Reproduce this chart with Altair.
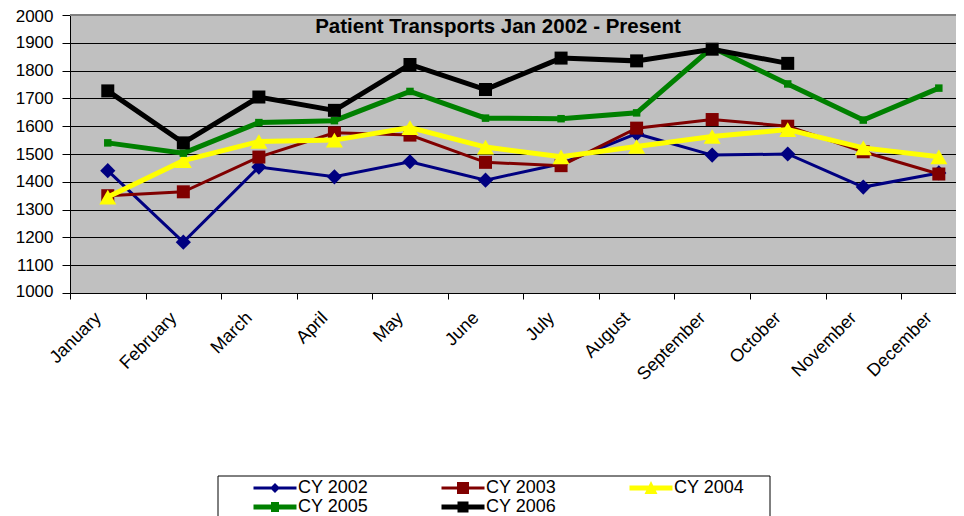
import altair as alt
import pandas as pd

# ---------------- data ----------------
months = ["January", "February", "March", "April", "May", "June", "July",
          "August", "September", "October", "November", "December"]
series_names = ["CY 2002", "CY 2003", "CY 2004", "CY 2005", "CY 2006"]
cy2002 = [1440, 1183, 1453, 1418, 1472, 1406, 1465, 1573, 1496, 1500, 1381, 1432]
cy2003 = [1350, 1364, 1489, 1576, 1568, 1470, 1458, 1593, 1624, 1600, 1508, 1428]
cy2004 = [1345, 1476, 1545, 1550, 1595, 1525, 1490, 1527, 1563, 1588, 1522, 1490]
cy2005 = [1540, 1503, 1613, 1620, 1725, 1629, 1627, 1648, 1883, 1752, 1622, 1737]
cy2006 = [1727, 1540, 1705, 1657, 1822, 1732, 1845, 1835, 1877, 1826, None, None]
y_ticks = [1000, 1100, 1200, 1300, 1400, 1500, 1600, 1700, 1800, 1900, 2000]
title_text = "Patient Transports Jan 2002 - Present"

# ---------------- styles ----------------
colors = ["#000080", "#800000", "#FFFF00", "#008000", "#000000"]
line_widths = [3, 3, 5, 5, 5]
shapes = ["diamond", "square", "triangle-up", "square", "square"]
marker_sizes = [230, 169, 289, 56, 169]

LEG_SIZE = 169              # legend symbol size (sqrt = 13 px)
UNIT = (LEG_SIZE ** 0.5) / 2  # px per path unit


def poly(points):
    return "M" + "L".join("%.3f,%.3f" % (x / UNIT, y / UNIT) for x, y in points) + "Z"


def legend_path(half_thick, marker):
    bar = poly([(-21.5, -half_thick), (21.5, -half_thick), (21.5, half_thick), (-21.5, half_thick)])
    return bar + " " + poly(marker)


legend_paths = [
    legend_path(1.5, [(0, -5), (5, 0), (0, 5), (-5, 0)]),
    legend_path(1.5, [(-6, -6), (6, -6), (6, 6), (-6, 6)]),
    legend_path(2.5, [(0, -7), (6.5, 6), (-6.5, 6)]),
    legend_path(2.5, [(-4, -5), (4, -5), (4, 5), (-4, 5)]),
    legend_path(2.5, [(-5.5, -5.5), (5.5, -5.5), (5.5, 5.5), (-5.5, 5.5)]),
]

FONT = "Liberation Sans"
W, H = 886, 278
BAND = 75.55
XMAX = W / BAND

rows = []
for name, vals in zip(series_names, [cy2002, cy2003, cy2004, cy2005, cy2006]):
    for i, (m, v) in enumerate(zip(months, vals)):
        if v is not None:
            rows.append({"series": name, "month": m, "pos": i + 0.5, "value": v})
df = pd.DataFrame(rows)

label_expr = "[" + ",".join("'%s'" % m for m in months) + "][datum.value] || ''"

x_enc = alt.X(
    "pos:Q",
    scale=alt.Scale(domain=[0, XMAX], nice=False, zero=False),
    axis=alt.Axis(
        values=list(range(0, 12)), labelExpr=label_expr, title=None, grid=False,
        labelAngle=315, labelAlign="right", labelBaseline="middle",
        labelOffset=28, labelPadding=16, tickSize=6, labelFlush=False,
        labelOverlap=False, labelBound=False, labelFont=FONT, labelFontSize=18,
        labelColor="black", tickColor="black", domainColor="black",
    ),
)
y_enc = alt.Y(
    "value:Q",
    scale=alt.Scale(domain=[1000, 2000], nice=False, zero=False),
    axis=alt.Axis(
        values=y_ticks, format="d", title=None, grid=True, gridColor="black", gridWidth=1,
        tickSize=8, labelPadding=9, labelFont=FONT, labelFontSize=17,
        labelFlush=True, labelFlushOffset=7,
        labelColor="black", tickColor="black", domainColor="black",
    ),
)

base = alt.Chart(df)

layers = []

# legend box (background)
box = alt.Chart(alt.Data(values=[{"a": 1}])).mark_rect(
    fill="white", stroke="black", strokeWidth=1
).encode(
    x=alt.value(148), x2=alt.value(700), y=alt.value(461), y2=alt.value(520)
)
layers.append(box)

# top border of plot area
top_rule = alt.Chart(alt.Data(values=[{"a": 1}])).mark_rule(
    color="#808080", strokeWidth=2
).encode(x=alt.value(0), x2=alt.value(W), y=alt.value(0))
layers.append(top_rule)

for i, name in enumerate(series_names):
    sub = base.transform_filter(alt.datum.series == name)
    layers.append(
        sub.mark_line(color=colors[i], strokeWidth=line_widths[i], clip=True).encode(x=x_enc, y=y_enc)
    )
    layers.append(
        sub.mark_point(filled=True, shape=shapes[i], size=marker_sizes[i],
                       color=colors[i], opacity=1, clip=True).encode(x=x_enc, y=y_enc)
    )

legend_kw = dict(
    orient="none", legendX=196, legendY=464, direction="horizontal", columns=3,
    title=None, labelFont=FONT, labelFontSize=18, labelColor="black",
    symbolSize=LEG_SIZE, symbolOpacity=1, symbolStrokeWidth=0,
    columnPadding=72, rowPadding=1, padding=0, labelOffset=14,
)
legend_layer = base.mark_point(filled=True, opacity=0, size=LEG_SIZE).encode(
    x=x_enc, y=y_enc,
    color=alt.Color("series:N", scale=alt.Scale(domain=series_names, range=colors),
                    legend=alt.Legend(**legend_kw)),
    shape=alt.Shape("series:N", scale=alt.Scale(domain=series_names, range=legend_paths),
                    legend=alt.Legend(**legend_kw)),
)
layers.append(legend_layer)

title_layer = alt.Chart(alt.Data(values=[{"t": title_text}])).mark_text(
    font=FONT, fontSize=20.5, fontWeight="bold", color="black",
    align="center", baseline="alphabetic"
).encode(x=alt.value(428), y=alt.value(18), text="t:N")
layers.append(title_layer)

chart = alt.layer(*layers).properties(
    width=W, height=H,
    padding={"left": 62, "top": 7, "right": 0, "bottom": 223},
    autosize=alt.AutoSizeParams(type="none"),
    background="white",
).configure_view(
    fill="#C0C0C0", stroke=None
)

chart.save("out.html", embed_options={"renderer": "svg", "actions": False})
